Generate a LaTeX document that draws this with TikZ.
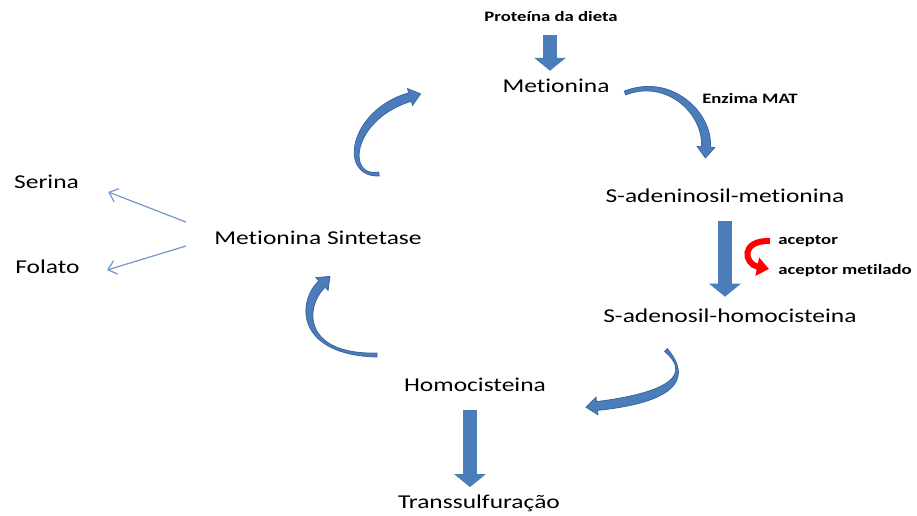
\documentclass[tikz,border=0pt]{standalone}
\usepackage{fontspec}
\setmainfont{Carlito}[FakeStretch=1.3, Ligatures=NoCommon]
\usetikzlibrary{positioning,calc,arrows.meta}

\definecolor{flowblue}{HTML}{4A7DBA}
\definecolor{flowedge}{HTML}{3B669C}
\definecolor{linkblue}{HTML}{7497CB}

% tapered bent block arrow: tail, control 1, control 2, head base
\newcommand{\crescent}[4]{%
  \filldraw[bentarr]
    ($(#1)!1pt!90:(#2)$)
    .. controls ($(#2)!2.3pt!90:(#3)$) and ($(#3)!2.5pt!90:(#4)$) ..
    ($(#4)!2.2pt!-90:(#3)$) -- ($(#4)!4.4pt!-90:(#3)$) -- ($(#4)!5.5pt!180:(#3)$)
    -- ($(#4)!4.4pt!90:(#3)$) -- ($(#4)!2.2pt!90:(#3)$)
    .. controls ($(#3)!2.5pt!-90:(#4)$) and ($(#2)!2.3pt!-90:(#3)$) ..
    ($(#1)!1pt!-90:(#2)$) -- cycle;}

\begin{document}
\begin{tikzpicture}[x=0.5pt, y=-0.5pt, on grid,
  lbl/.style={inner sep=0pt, font=\fontsize{9.8}{12}\selectfont},
  note/.style={inner sep=0pt, font=\fontsize{7.2}{9}\selectfont\bfseries},
  blockarr/.style={flowblue, line width=7pt, -{Triangle[width=15.5pt,length=6.5pt]}},
  bentarr/.style={fill=flowblue, draw=flowedge, line width=0.4pt},
  redarr/.style={red, line width=3pt, -{Triangle[width=9pt,length=6pt]}},
  thinarr/.style={linkblue, line width=0.6pt, -{Straight Barb[length=4pt,width=7pt]}}]
\useasboundingbox (0,0) rectangle (917,515);

\node[lbl] (met) at (556,86) {Metionina};
\node[note] (prot) [above left=35pt and 2.5pt of met] {Proteína da dieta};
\node[note] (enz) [below right=6pt and 97pt of met] {Enzima MAT};
\node[lbl] (sam) [below right=55pt and 84.5pt of met] {S-adeninosil-metionina};
\node[lbl] (sah) [below right=60pt and 2.5pt of sam] {S-adenosil-homocisteina};
\node[lbl] (hcy) [below left=34.5pt and 127.5pt of sah] {Homocisteina};
\node[lbl] (trans) [below right=59pt and 2pt of hcy] {Transsulfuração};
\node[lbl] (ms) [above left=73.5pt and 78.5pt of hcy] {Metionina Sintetase};
\node[lbl] (ser) [above left=28pt and 135.75pt of ms] {Serina};
\node[lbl] (fol) [below right=42.25pt and 0.5pt of ser] {Folato};
\node[note, anchor=base west] (acc) at (778,244) {aceptor};
\node[note, anchor=base west] (accm) at ([yshift=-15pt]acc.base west) {aceptor metilado};

\draw[blockarr, shorten <=6.5pt, shorten >=4pt] ([xshift=-0.5pt]prot.south) -- ([xshift=-3pt]met.north);
\draw[blockarr, shorten <=9pt, shorten >=6pt] (sam.south) -- ([xshift=-2.5pt]sah.north);
\draw[blockarr, shorten <=9pt, shorten >=3.5pt] ([xshift=-2.5pt]hcy.south) -- ([xshift=-4.5pt]trans.north);

\crescent{379,174}{342,178}{350,115}{410,97}
\crescent{625,93}{668,76}{708,112}{706,147}
\crescent{666,350}{700,385}{650,400}{597,406}
\crescent{377,355}{300,355}{300,305}{322,284}

\coordinate (redtail) at (770,241);
\coordinate (redtip) at (769,269);
\draw[redarr] (redtail) .. controls (740,240) and (744,264) .. (redtip);

\draw[thinarr] ([xshift=-14pt,yshift=8pt]ms.west) -- ([xshift=14.5pt,yshift=-5pt]ser.east);
\draw[thinarr] ([xshift=-14pt,yshift=-4pt]ms.west) -- ([xshift=13.5pt,yshift=-1.75pt]fol.east);
\end{tikzpicture}
\end{document}
